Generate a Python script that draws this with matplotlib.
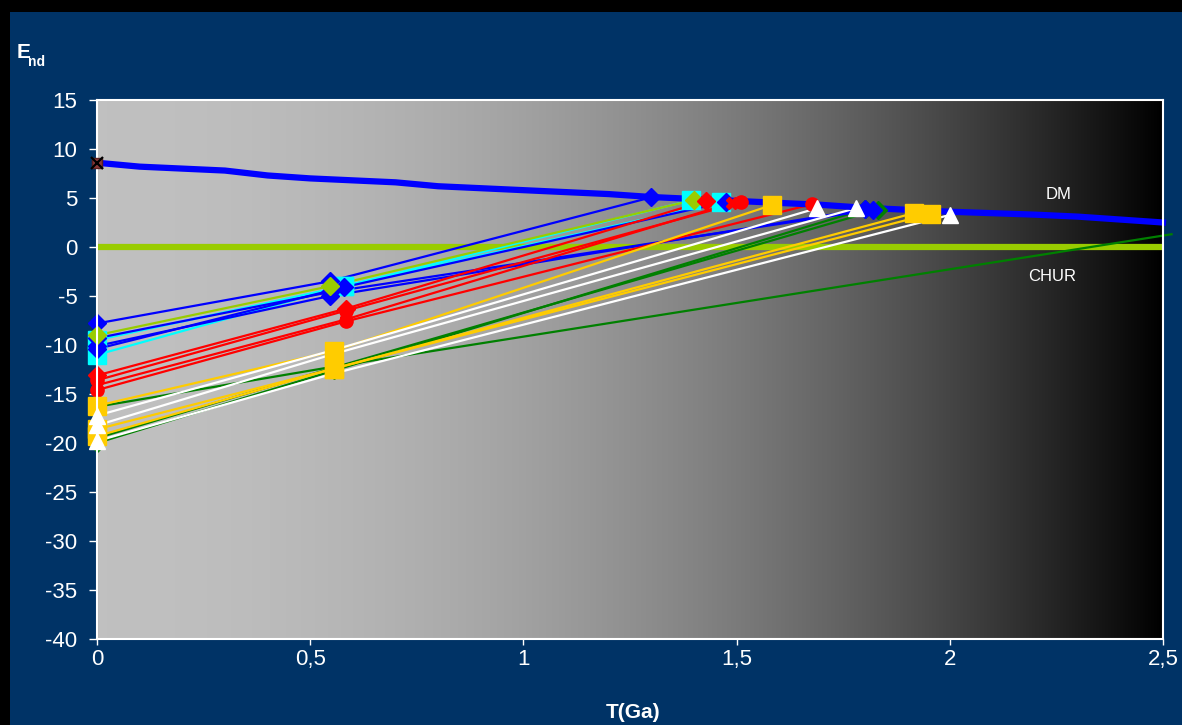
import numpy as np
import matplotlib
matplotlib.use("Agg")  # headless
import matplotlib.pyplot as plt
from matplotlib.patches import Rectangle

plt.rcParams["font.family"] = ["Liberation Sans", "DejaVu Sans"]
plt.rcParams["axes.unicode_minus"] = False

NAVY = "#003366"

# Depleted mantle (DM) evolution curve
dm_t = [0, 0.1, 0.2, 0.3, 0.4, 0.5, 0.6, 0.7, 0.8, 0.9, 1.0, 1.1, 1.2,
        1.3, 1.4, 1.5, 1.6, 1.7, 1.8, 1.9, 2.0, 2.1, 2.2, 2.3, 2.4, 2.5]
dm_e = [8.6, 8.2, 8.0, 7.8, 7.3, 7.0, 6.8, 6.6, 6.2, 6.0, 5.8, 5.6, 5.4,
        5.1, 4.9, 4.7, 4.5, 4.3, 4.0, 3.8, 3.6, 3.45, 3.3, 3.1, 2.8, 2.5]

# Chondritic uniform reservoir
chur_t = [0, 2.5]
chur_e = [0, 0]

# Samples: [present day, crystallisation age, model age T_DM]
green_t = [[0, 0.556, 2.52], [0, 0.556, 1.831], [0, 0.556, 1.80]]
green_e = [[-16.3, -12.2, 1.3], [-19.5, -12.3, 3.8], [-20.0, -12.6, 3.85]]

cyan_t = [[0, 0.579, 1.392], [0, 0.579, 1.464]]
cyan_e = [[-9.5, -4.0, 4.75], [-11.0, -4.0, 4.6]]

blue_t = [[0, 0.546, 1.30], [0, 0.546, 1.819], [0, 0.546, 1.80], [0, 0.579, 1.474]]
blue_e = [[-7.8, -3.5, 5.07], [-9.3, -4.6, 3.8], [-10.1, -5.0, 3.85], [-10.4, -4.1, 4.6]]

yg_t = [[0, 0.546, 1.40]]
yg_e = [[-9.0, -4.0, 4.8]]

red_t = [[0, 0.583, 1.428], [0, 0.583, 1.51], [0, 0.583, 1.676], [0, 0.583, 1.49]]
red_e = [[-13.1, -6.3, 4.7], [-13.6, -6.5, 4.56], [-14.6, -7.6, 4.36], [-14.1, -7.4, 4.5]]
red_mk = ["D", "o", "o", "X"]

yellow_t = [[0, 0.556, 1.584], [0, 0.556, 1.915], [0, 0.556, 1.956]]
yellow_e = [[-16.2, -10.6, 4.3], [-18.6, -12.4, 3.45], [-19.3, -12.4, 3.4]]

white_t = [[0, 0.556, 1.688], [0, 0.556, 1.779], [0, 0.556, 2.0]]
white_e = [[-17.2, -10.5, 3.95], [-18.2, -10.9, 3.95], [-19.8, -12.9, 3.27]]

x_ticks = [0, 0.5, 1, 1.5, 2, 2.5]
x_ticklabels = ["0", "0,5", "1", "1,5", "2", "2,5"]
y_ticks = [15, 10, 5, 0, -5, -10, -15, -20, -25, -30, -35, -40]

# marker sizes (points)
MS = {"D": 9.5, "s": 13.5, "o": 9.5, "X": 9, "^": 11}

# group: (t, e, colour, markers, middle marker shown)
groups = [
    (green_t, green_e, "#008000", ["D"] * 3, True),
    (cyan_t, cyan_e, "#00ffff", ["s"] * 2, True),
    (blue_t, blue_e, "#0000ff", ["D"] * 4, True),
    (yg_t, yg_e, "#99cc00", ["D"], True),
    (red_t, red_e, "#ff0000", red_mk, True),
    (yellow_t, yellow_e, "#ffcc00", ["s"] * 3, True),
    (white_t, white_e, "#ffffff", ["^"] * 3, False),
]

fig = plt.figure(figsize=(11.82, 7.25), dpi=100, facecolor="black")
fig.patches.append(Rectangle((10 / 1182, 0), 1, 1 - 12 / 725, transform=fig.transFigure,
                             facecolor=NAVY, edgecolor="none", zorder=-10))
ax = fig.add_axes([97 / 1182, 1 - 639 / 725, 1066 / 1182, 539 / 725])

# grey-to-black gradient in the plot area
f = np.linspace(0, 1, 600)
v = 0.753 * (1 - f ** 2)
grad = np.dstack([v, v, v])[0][None, :, :]
ax.imshow(grad, extent=[0, 2.5, -40, 15], aspect="auto", zorder=0, interpolation="bilinear")

ax.plot(chur_t, chur_e, color="#99cc00", lw=4.5, zorder=2, solid_capstyle="butt")

for ts, es, col, mks, mid in groups:
    for t, e in zip(ts, es):
        ax.plot(t, e, color=col, lw=1.6, zorder=3, clip_on=False)

ax.plot(dm_t, dm_e, color="#0000ff", lw=4.5, zorder=4, clip_on=False)
ax.plot([dm_t[0], dm_t[0]], [dm_e[0], y_ticks[-1]], color="#2b0a0a", lw=1.5, zorder=4)

z = 5
for ts, es, col, mks, mid in groups:
    for t, e, mk in zip(ts, es, mks):
        for i, (ti, ei) in enumerate(zip(t, e)):
            if ti > 2.5 or (i == 1 and not mid):
                continue
            ax.plot(ti, ei, marker=mk, ms=MS[mk], color=col, mec=col, ls="none",
                    zorder=z, clip_on=False)
    z += 0.1

ax.plot(dm_t[0], dm_e[0], marker="s", ms=7, color="#8b3a3a", mec="#5a2020",
        ls="none", zorder=7, clip_on=False)
ax.plot(dm_t[0], dm_e[0], marker="x", ms=8, mew=1.6, color="black",
        ls="none", zorder=7.1, clip_on=False)

ax.text(2.254, 5.4, "DM", color="white", fontsize=12, ha="center", va="center")
ax.text(2.24, -3.06, "CHUR", color="white", fontsize=12, ha="center", va="center")

ax.set_xlim(0, 2.5)
ax.set_ylim(-40, 15)
ax.set_xticks(x_ticks)
ax.set_xticklabels(x_ticklabels)
ax.set_yticks(y_ticks)
ax.tick_params(axis="x", colors="white", labelsize=16, length=4, width=1, pad=3)
ax.tick_params(axis="y", colors="white", labelsize=16, length=6, width=1, pad=8)
for s in ax.spines.values():
    s.set_color("white")
    s.set_linewidth(1.5)
    s.set_zorder(6)

fig.text(633 / 1182, 1 - 713 / 725, "T(Ga)", color="white", fontsize=15,
         fontweight="bold", ha="center", va="center")
fig.text(17 / 1182, 1 - 58 / 725, "E", color="white", fontsize=15,
         fontweight="bold", ha="left", va="baseline")
fig.text(28 / 1182, 1 - 66 / 725, "nd", color="white", fontsize=10,
         fontweight="bold", ha="left", va="baseline")

fig.savefig("out.png", dpi=100, facecolor=fig.get_facecolor())
